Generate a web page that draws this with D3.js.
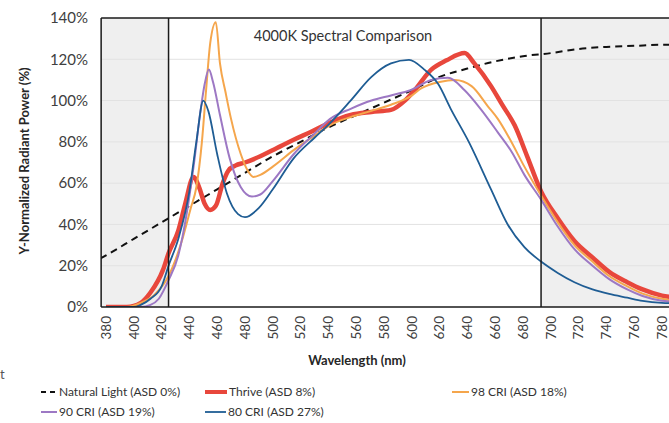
<!DOCTYPE html>
<html>
<head>
<meta charset="utf-8">
<script src="https://cdn.jsdelivr.net/npm/d3@7"></script>
<style>
	body { margin: 0; background: #fff; }
	svg { display: block; font-family: Lato, "Open Sans", sans-serif; }
</style>
</head>
<body>
<div id="chart"></div>
<script>
// values, wavelength (nm) -> % of normalized power
const xTicks = [380, 400, 420, 440, 460, 480, 500, 520, 540, 560, 580, 600, 620, 640, 660, 680, 700, 720, 740, 760, 780];
const yTicks = [0, 20, 40, 60, 80, 100, 120, 140];
const bandEdges = [425, 693];

const natural = [[376, 23.5], [380, 25], [400, 33], [420, 41], [440, 49], [460, 57], [480, 65], [500, 73], [520, 80], [540, 87], [560, 93], [580, 99], [600, 105], [620, 111.5], [640, 115.5], [660, 119], [680, 121.5], [700, 123], [720, 125], [740, 126], [760, 126.5], [780, 127], [790, 127]];

const thrive = [[380, 0], [395, 0], [405, 2], [412, 7], [421, 18], [425, 26], [432, 37], [437, 50], [443, 63], [447, 58], [451, 50], [455, 47], [459, 49], [464, 60], [468, 66], [473, 68.5], [480, 70], [491, 73], [503, 77], [515, 81], [528, 85], [540, 89], [556, 93], [571, 94.5], [585, 95.5], [595, 100], [602, 105], [614, 115], [625, 119.5], [638, 123], [645, 118], [657, 107], [665, 98], [674, 88], [683, 73], [693, 56], [705, 43], [717, 32], [730, 24], [742, 17], [755, 12], [766, 8.5], [780, 5.5], [790, 4.5]];

const cri98 = [[380, 0], [395, 0], [405, 2], [415, 6], [425, 15], [435, 33], [441, 48], [445, 58], [449, 80], [452, 105], [455, 128], [459, 138], [462, 118], [466, 104], [470, 91], [477, 74], [482, 66], [486, 63], [491, 64], [500, 68], [515, 76], [530, 83], [541, 88], [556, 92], [571, 95], [585, 98], [599, 102], [607, 106], [620, 109], [631, 110], [643, 107], [655, 97], [662, 91], [670, 82], [681, 68], [693, 54], [705, 41], [717, 30], [730, 22], [742, 15], [755, 10], [766, 6.5], [780, 4], [790, 3]];

const cri90 = [[380, 0], [405, 0], [412, 1], [418, 4], [425, 13], [432, 25], [438, 45], [443, 68], [448, 95], [451, 108], [454, 115], [457, 109], [462, 93], [469, 72], [477, 58], [485, 53.5], [491, 54.5], [500, 61], [515, 74], [530, 84], [541, 91], [556, 96], [571, 100], [585, 102.5], [599, 105], [614, 110], [626, 111], [638, 105], [650, 95.5], [662, 84.5], [672, 75], [681, 64], [693, 52], [705, 39], [717, 28], [730, 20], [742, 13.5], [755, 8.5], [766, 5.3], [780, 3], [790, 2.5]];

const cri80 = [[380, 0], [400, 0], [405, 1], [412, 4], [420, 10], [425, 20], [432, 33], [440, 56], [445, 80], [450, 100], [453.6, 95], [460, 74], [467, 55], [475, 45], [480, 43.5], [490, 48], [500, 57], [515, 72], [530, 82], [541, 89], [556, 100], [571, 111.5], [585, 118], [598, 119.7], [609, 115], [619, 108], [628, 96], [641, 80], [657, 57], [669, 40], [681, 29], [693, 22], [705, 16.5], [717, 12], [730, 8.5], [742, 6.3], [755, 4.5], [766, 3], [780, 2], [790, 1.8]];

const series = [
	{ name: "Natural Light (ASD 0%)", data: natural, color: "#111", width: 2, dash: "7,5" },
	{ name: "Thrive (ASD 8%)", data: thrive, color: "#e8473c", width: 4.5, dash: null },
	{ name: "98 CRI (ASD 18%)", data: cri98, color: "#f5a64c", width: 2, dash: null },
	{ name: "90 CRI (ASD 19%)", data: cri90, color: "#9d78c4", width: 2, dash: null },
	{ name: "80 CRI (ASD 27%)", data: cri80, color: "#1f5d94", width: 1.8, dash: null }
];

var width = 669,
	height = 423;

var svg = d3.select("#chart")
	.append("svg")
	.attr("width", width)
	.attr("height", height);

var x = d3.scaleLinear()
	.domain([380, 780])
	.range([106, 662]);

var y = d3.scaleLinear()
	.domain([0, 140])
	.range([307, 18]);

var left = x(376.5),
	right = 700;

// shaded areas outside the markers
svg.append("rect")
	.attr("x", left)
	.attr("y", y(140))
	.attr("width", x(bandEdges[0]) - left)
	.attr("height", y(0) - y(140))
	.attr("fill", "#efefef");

svg.append("rect")
	.attr("x", x(bandEdges[1]))
	.attr("y", y(140))
	.attr("width", right - x(bandEdges[1]))
	.attr("height", y(0) - y(140))
	.attr("fill", "#efefef");

// gridlines
svg.append("g")
	.selectAll("line")
	.data(yTicks.filter(function (d) { return d > 0 && d < 140; }))
	.enter()
	.append("line")
	.attr("x1", left)
	.attr("x2", right)
	.attr("y1", function (d) { return y(d); })
	.attr("y2", function (d) { return y(d); })
	.attr("stroke", "#e2e2e2")
	.attr("stroke-width", 1);

svg.append("clipPath")
	.attr("id", "plotclip")
	.append("rect")
	.attr("x", left)
	.attr("y", y(140))
	.attr("width", right - left)
	.attr("height", y(0) - y(140));

var line = d3.line()
	.x(function (d) { return x(d[0]); })
	.y(function (d) { return y(d[1]); })
	.curve(d3.curveMonotoneX);

svg.append("g")
	.attr("clip-path", "url(#plotclip)")
	.selectAll("path")
	.data(series)
	.enter()
	.append("path")
	.attr("d", function (d) { return line(d.data); })
	.attr("fill", "none")
	.attr("stroke", function (d) { return d.color; })
	.attr("stroke-width", function (d) { return d.width; })
	.attr("stroke-dasharray", function (d) { return d.dash; })
	.attr("stroke-linejoin", "round");

// frame and marker lines
var frame = svg.append("g").attr("stroke", "#1a1a1a").attr("stroke-width", 1.5);
frame.append("line").attr("x1", left).attr("x2", right).attr("y1", y(140)).attr("y2", y(140));
frame.append("line").attr("x1", left).attr("x2", right).attr("y1", y(0)).attr("y2", y(0));
frame.append("line").attr("x1", left).attr("x2", left).attr("y1", y(140)).attr("y2", y(0));
frame.selectAll(".edge")
	.data(bandEdges)
	.enter()
	.append("line")
	.attr("class", "edge")
	.attr("x1", function (d) { return x(d); })
	.attr("x2", function (d) { return x(d); })
	.attr("y1", y(140))
	.attr("y2", y(0));

// y tick labels
svg.append("g")
	.selectAll("text")
	.data(yTicks)
	.enter()
	.append("text")
	.attr("x", 88)
	.attr("y", function (d) { return y(d); })
	.attr("dy", "0.35em")
	.attr("text-anchor", "end")
	.attr("font-size", 15)
	.attr("fill", "#404040")
	.text(function (d) { return d + "%"; });

// x tick labels, rotated
svg.append("g")
	.selectAll("text")
	.data(xTicks)
	.enter()
	.append("text")
	.attr("transform", function (d) { return "translate(" + x(d) + ",316) rotate(-90)"; })
	.attr("dy", "0.35em")
	.attr("text-anchor", "end")
	.attr("font-size", 13.5)
	.attr("fill", "#404040")
	.text(function (d) { return d; });

svg.append("text")
	.attr("transform", "translate(29,161) rotate(-90)")
	.attr("text-anchor", "middle")
	.attr("font-size", 13)
	.attr("font-weight", "bold")
	.attr("fill", "#262626")
	.text("Y-Normalized Radiant Power (%)");

svg.append("text")
	.attr("x", 357)
	.attr("y", 365)
	.attr("text-anchor", "middle")
	.attr("font-size", 13)
	.attr("font-weight", "bold")
	.attr("fill", "#262626")
	.text("Wavelength (nm)");

svg.append("text")
	.attr("x", 343)
	.attr("y", 41)
	.attr("text-anchor", "middle")
	.attr("font-size", 14.5)
	.attr("fill", "#333")
	.text("4000K Spectral Comparison");

// stray cut-off glyph at the left edge of the original
svg.append("text")
	.attr("x", 0)
	.attr("y", 379)
	.attr("font-size", 13)
	.attr("fill", "#555")
	.text("t");

// legend
var legendPos = [
	{ x: 41, y: 392, len: 16 },
	{ x: 205, y: 392, len: 22 },
	{ x: 452, y: 392, len: 17 },
	{ x: 41, y: 412, len: 16 },
	{ x: 205, y: 412, len: 21 }
];

var legend = svg.append("g")
	.selectAll("g")
	.data(series)
	.enter()
	.append("g")
	.attr("transform", function (d, i) { return "translate(" + legendPos[i].x + "," + legendPos[i].y + ")"; });

legend.append("line")
	.attr("x1", 0)
	.attr("x2", function (d, i) { return legendPos[i].len; })
	.attr("stroke", function (d) { return d.color; })
	.attr("stroke-width", function (d) { return Math.min(d.width, 4); })
	.attr("stroke-dasharray", function (d) { return d.dash ? "5,4" : null; });

legend.append("text")
	.attr("x", function (d, i) { return legendPos[i].len + 2; })
	.attr("dy", "0.35em")
	.attr("font-size", 12)
	.attr("fill", "#333")
	.text(function (d) { return d.name; });
</script>
</body>
</html>
